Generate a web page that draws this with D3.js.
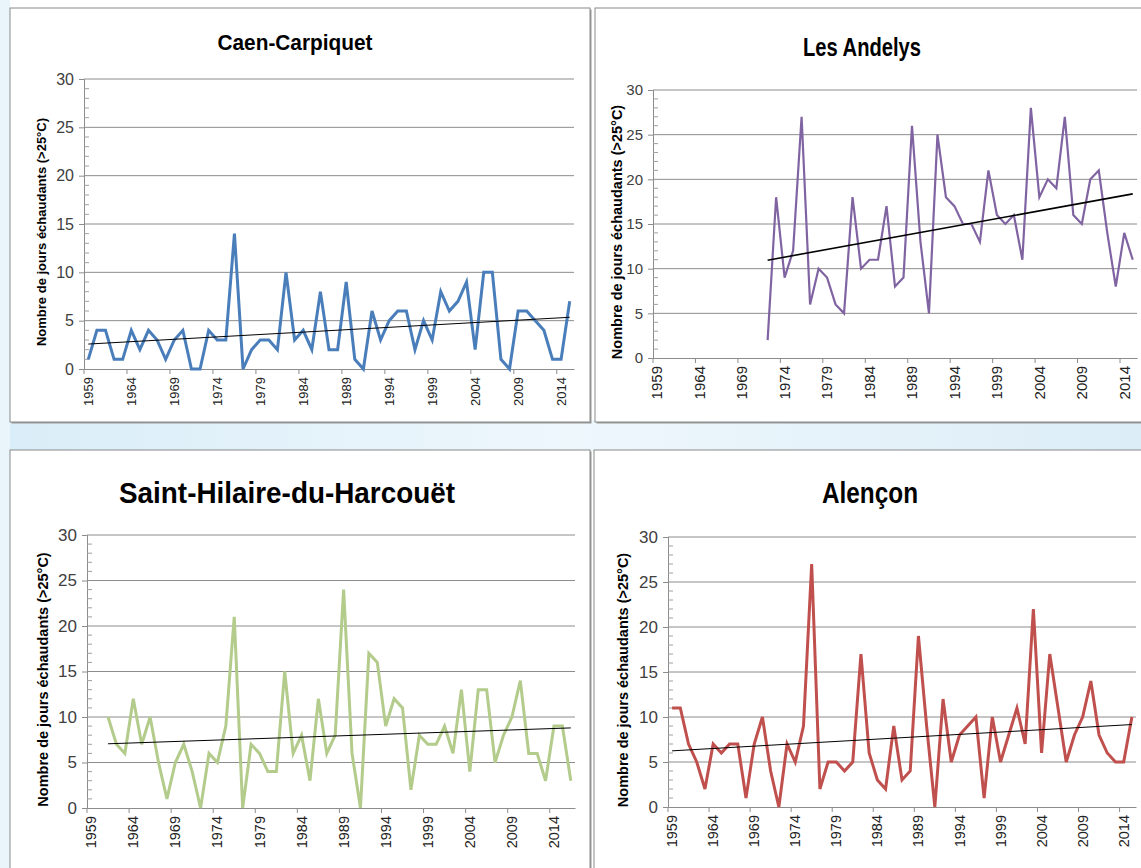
<!DOCTYPE html>
<html>
<head>
<meta charset="utf-8">
<script src="https://cdn.jsdelivr.net/npm/d3@7"></script>
<style>
	body { margin: 0; background: #fff; }
	svg { display: block; }
	.ttl { font-family: "Liberation Sans Narrow", "Liberation Sans", Arial, sans-serif; font-weight: bold; fill: #000; }
	.ytick { font-family: "Liberation Sans Narrow", "Liberation Sans", sans-serif; fill: #404040; }
	.xtick { font-family: "Liberation Sans", Arial, sans-serif; fill: #222; }
	.ylab { font-family: "Liberation Sans", Arial, sans-serif; font-weight: bold; fill: #000; }
</style>
</head>
<body>
<svg width="1141" height="868"></svg>
<script>
// category tick labels on every x axis
const tickYears = [1959, 1964, 1969, 1974, 1979, 1984, 1989, 1994, 1999, 2004, 2009, 2014];
const yTicks = [0, 5, 10, 15, 20, 25, 30];

// number of days above 25°C per year
const caenStart = 1959;
const caenValues = [1, 4, 4, 1, 1, 4, 2, 4, 3, 1,
                    3, 4, 0, 0, 4, 3, 3, 14, 0, 2,
                    3, 3, 2, 10, 3, 4, 2, 8, 2, 2,
                    9, 1, 0, 6, 3, 5, 6, 6, 2, 5,
                    3, 8, 6, 7, 9, 2, 10, 10, 1, 0,
                    6, 6, 5, 4, 1, 1, 7];

const andelysStart = 1972;
const andelysValues = [2, 18, 9, 12, 27, 6, 10,
                       9, 6, 5, 18, 10, 11, 11, 17, 8, 9,
                       26, 13, 5, 25, 18, 17, 15, 15, 13, 21,
                       16, 15, 16, 11, 28, 18, 20, 19, 27, 16,
                       15, 20, 21, 14, 8, 14, 11];

const hilaireStart = 1961;
const hilaireValues = [10, 7, 6, 12, 7, 10, 5, 1,
                       5, 7, 4, 0, 6, 5, 9, 21, 0, 7,
                       6, 4, 4, 15, 6, 8, 3, 12, 6, 8,
                       24, 6, 0, 17, 16, 9, 12, 11, 2, 8,
                       7, 7, 9, 6, 13, 4, 13, 13, 5, 8,
                       10, 14, 6, 6, 3, 9, 9, 3];

const alenconStart = 1959;
const alenconValues = [11, 11, 7, 5, 2, 7, 6, 7, 7, 1,
                       7, 10, 4, 0, 7, 5, 9, 27, 2, 5,
                       5, 4, 5, 17, 6, 3, 2, 9, 3, 4,
                       19, 9, 0, 12, 5, 8, 9, 10, 1, 10,
                       5, 8, 11, 7, 22, 6, 17, 11, 5, 8,
                       10, 14, 8, 6, 5, 5, 10];

const panels = [
	{ title: "Caen-Carpiquet", start: caenStart, values: caenValues, lastYear: 2015,
	  box: [10, 8, 580, 414], plot: [84, 79, 574, 369], color: "#4a7ebb", lw: 3,
	  titleX: 295, titleY: 50, titleSize: 22, titleW: 155, tickSize: 16, xSize: 13, labSize: 13, labX: 46, trendW: 1 },
	{ title: "Les Andelys", start: andelysStart, values: andelysValues, lastYear: 2015,
	  box: [595, 8, 548, 414], plot: [653, 90, 1137, 358], color: "#8064a2", lw: 2.2,
	  titleX: 862, titleY: 56, titleSize: 26, titleW: 118, tickSize: 15, xSize: 15, labSize: 14.5, labX: 622, trendW: 1.6 },
	{ title: "Saint-Hilaire-du-Harcouët", start: hilaireStart, values: hilaireValues, lastYear: 2016,
	  box: [10, 450, 580, 420], plot: [87, 535, 575, 808], color: "#b3cb8b", lw: 3,
	  titleX: 287, titleY: 503, titleSize: 29, titleW: 336, tickSize: 17, xSize: 14.5, labSize: 14.5, labX: 48, trendW: 1 },
	{ title: "Alençon", start: alenconStart, values: alenconValues, lastYear: 2015,
	  box: [594, 450, 550, 420], plot: [668, 537, 1136, 807], color: "#c0504d", lw: 3,
	  titleX: 870, titleY: 503, titleSize: 29, titleW: 96, tickSize: 17, xSize: 14.5, labSize: 14.5, labX: 628, trendW: 1 }
];

const svg = d3.select("svg");

drawBackground();
panels.forEach(drawPanel);

function drawBackground() {
	const grad = svg.append("defs").append("linearGradient")
		.attr("id", "wm").attr("x1", 0).attr("x2", 1);
	grad.append("stop").attr("offset", 0).attr("stop-color", "#d9edf8");
	grad.append("stop").attr("offset", 0.5).attr("stop-color", "#eef7fc");
	grad.append("stop").attr("offset", 1).attr("stop-color", "#dcedf7");
	svg.append("rect").attr("x", 0).attr("y", 420).attr("width", 1141).attr("height", 32)
		.attr("fill", "url(#wm)");
	svg.append("rect").attr("x", 0).attr("y", 0).attr("width", 10).attr("height", 868)
		.attr("fill", "#eaf5fb");
}

function drawPanel(p) {
	const [bx, by, bw, bh] = p.box;
	const [x0, y0, x1, y1] = p.plot;

	svg.append("rect")
		.attr("x", bx + 1.5).attr("y", by + 1.5).attr("width", bw).attr("height", bh)
		.attr("fill", "#9a9a9a");
	svg.append("rect")
		.attr("x", bx).attr("y", by).attr("width", bw).attr("height", bh)
		.attr("fill", "#fff").attr("stroke", "#8a8a8a").attr("stroke-width", 1);

	const g = svg.append("g");
	const years = d3.range(1959, p.lastYear + 1);

	const xScale = d3.scaleBand().domain(years).range([x0, x1]);
	const yScale = d3.scaleLinear().domain([0, 30]).range([y1, y0]);
	const cx = yr => xScale(yr) + xScale.bandwidth() / 2;

	// gridlines
	g.selectAll(".grid").data(yTicks.filter(d => d > 0)).enter().append("line")
		.attr("x1", x0).attr("x2", x1)
		.attr("y1", d => yScale(d)).attr("y2", d => yScale(d))
		.attr("stroke", "#8c8c8c").attr("stroke-width", 1);

	// y axis with minor ticks inside
	const yAxis = d3.axisLeft(yScale).tickValues(yTicks).tickSize(5).tickPadding(5);
	const yg = g.append("g").attr("transform", `translate(${x0},0)`).call(yAxis);
	yg.select(".domain").attr("stroke", "#8c8c8c");
	yg.selectAll(".tick line").attr("stroke", "#8c8c8c");
	yg.selectAll(".tick text").attr("class", "ytick").style("font-size", p.tickSize + "px");
	const minor = d3.range(0, 31).filter(d => d % 5 !== 0);
	g.selectAll(".minor").data(minor).enter().append("line")
		.attr("x1", x0).attr("x2", x0 + 5)
		.attr("y1", d => yScale(d)).attr("y2", d => yScale(d))
		.attr("stroke", "#a0a0a0").attr("stroke-width", 1);

	// x axis: tick marks between categories, labels at category centers
	const xAxis = d3.axisBottom(xScale).tickValues(tickYears).tickSize(0).tickPadding(0);
	const xg = g.append("g").attr("transform", `translate(0,${y1})`).call(xAxis);
	xg.select(".domain").attr("stroke", "#8c8c8c");
	xg.selectAll(".tick text")
		.attr("class", "xtick")
		.style("font-size", p.xSize + "px")
		.attr("text-anchor", "end")
		.attr("dy", "0.35em")
		.attr("transform", "translate(0,8) rotate(-90)");
	g.selectAll(".xt").data(tickYears).enter().append("line")
		.attr("x1", d => xScale(d)).attr("x2", d => xScale(d))
		.attr("y1", y1).attr("y2", y1 + 5)
		.attr("stroke", "#8c8c8c");

	// series
	const pts = p.values.map((v, i) => [p.start + i, v]);
	const line = d3.line().x(d => cx(d[0])).y(d => yScale(d[1]));
	g.append("path").datum(pts)
		.attr("d", line)
		.attr("fill", "none")
		.attr("stroke", p.color)
		.attr("stroke-width", p.lw)
		.attr("stroke-linejoin", "miter");

	// linear trend (least squares on the series)
	const n = pts.length;
	const mx = d3.mean(pts, d => d[0]);
	const my = d3.mean(pts, d => d[1]);
	const slope = d3.sum(pts, d => (d[0] - mx) * (d[1] - my)) / d3.sum(pts, d => (d[0] - mx) ** 2);
	const trend = [pts[0][0], pts[n - 1][0]].map(yr => [yr, my + slope * (yr - mx)]);
	g.append("path").datum(trend)
		.attr("d", line)
		.attr("fill", "none")
		.attr("stroke", "#000")
		.attr("stroke-width", p.trendW);

	// titles, squeezed to the narrow width of the original font
	g.append("text").attr("class", "ttl")
		.attr("x", p.titleX).attr("y", p.titleY)
		.attr("text-anchor", "middle")
		.attr("textLength", p.titleW)
		.attr("lengthAdjust", "spacingAndGlyphs")
		.style("font-size", p.titleSize + "px")
		.text(p.title);

	g.append("text").attr("class", "ylab")
		.attr("transform", `translate(${p.labX},${(y0 + y1) / 2 + 8}) rotate(-90)`)
		.attr("text-anchor", "middle")
		.style("font-size", p.labSize + "px")
		.text("Nombre de jours échaudants (>25°C)");
}
</script>
</body>
</html>
